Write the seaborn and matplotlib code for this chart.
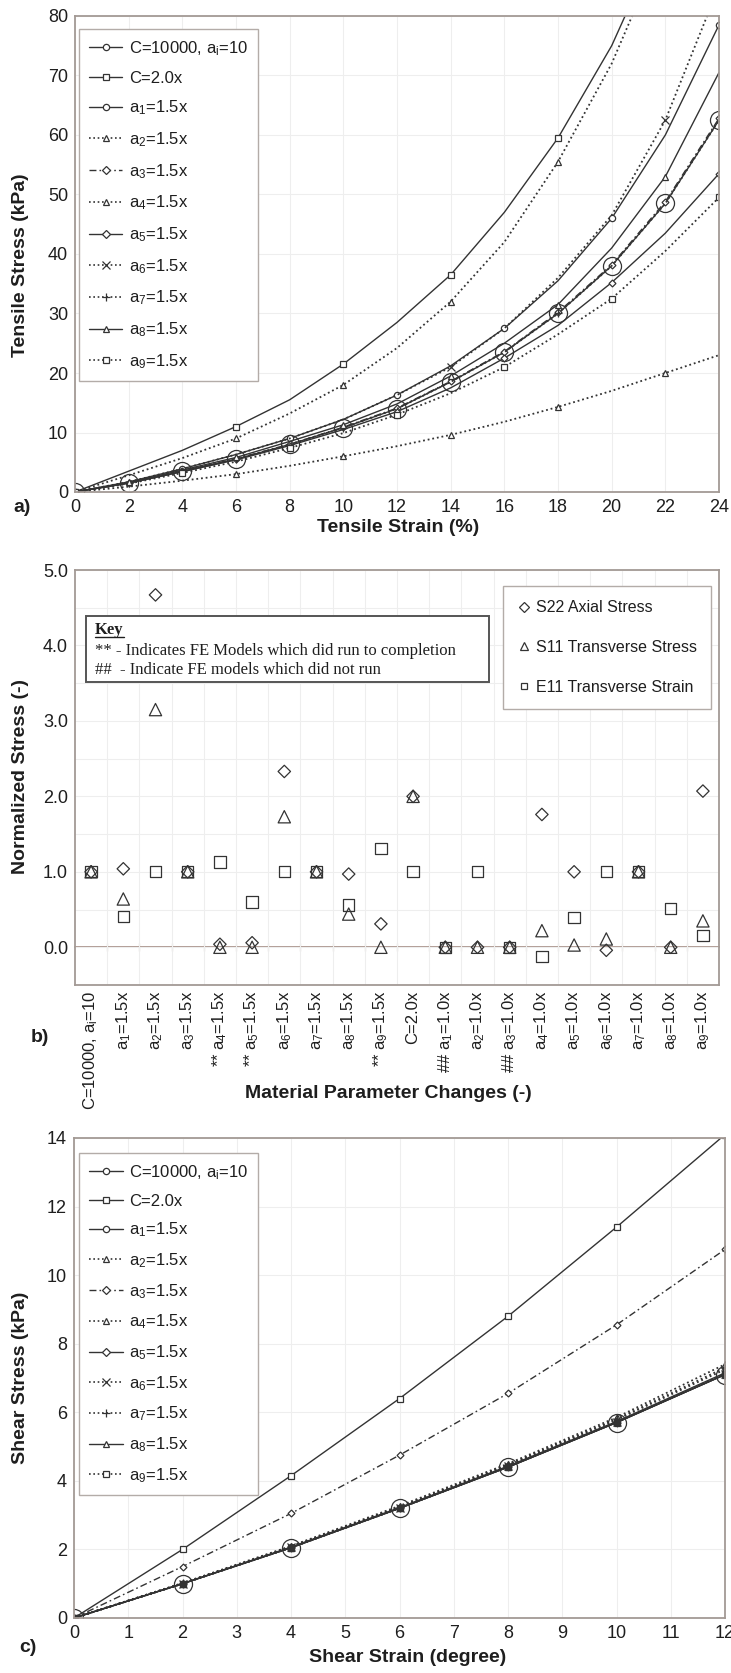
import matplotlib
matplotlib.use("Agg")
import matplotlib.pyplot as plt
import seaborn as sns
import numpy as np
import pandas as pd
from matplotlib.lines import Line2D
from matplotlib.patches import Rectangle
from matplotlib.ticker import MultipleLocator, FixedLocator, FormatStrFormatter

# ---------------- data: panel a (tensile) ----------------
tensile_strain = [0, 2, 4, 6, 8, 10, 12, 14, 16, 18, 20, 22, 24]
ta_base = [0, 1.5, 3.5, 5.5, 8, 10.8, 14, 18.5, 23.5, 30, 38, 48.5, 62.5]
ta_C2 = [0, 3.5, 7, 11, 15.5, 21.5, 28.5, 36.5, 47, 59.5, 75, 95]
ta_a1 = [0, 1.7, 3.9, 6.3, 9, 12.2, 16.3, 21.2, 27.5, 35.5, 46, 60, 78.5]
ta_a2 = [0, 2.8, 5.7, 9, 13.2, 18, 24.2, 32, 42, 55.5, 72, 93]
ta_a3 = [0, 1.5, 3.5, 5.6, 8, 10.9, 14.1, 18.6, 23.6, 30.2, 38.2, 48.8, 62.8]
ta_a4 = [0, 0.9, 1.9, 3, 4.4, 6, 7.7, 9.6, 11.8, 14.3, 17, 20, 23]
ta_a5 = [0, 1.5, 3.4, 5.4, 7.8, 10.5, 13.5, 17.5, 22.5, 28, 35.2, 43.5, 53.5]
ta_a6 = [0, 1.7, 3.9, 6.3, 9, 12.2, 16.3, 21, 27.5, 36, 46.5, 62.5, 85]
ta_a7 = [0, 1.5, 3.5, 5.5, 8, 10.8, 14, 18.5, 23.5, 30, 38, 48.5, 62.5]
ta_a8 = [0, 1.6, 3.7, 5.8, 8.5, 11.3, 14.8, 19.5, 25, 31.5, 41, 53, 70.5]
ta_a9 = [0, 1.4, 3.2, 5.1, 7.4, 9.9, 13, 16.6, 21, 26.5, 32.5, 40.5, 49.5]

# ---------------- data: panel c (shear) ----------------
shear_strain = [0, 2, 4, 6, 8, 10, 12]
sc_base = [0, 1.0, 2.05, 3.2, 4.4, 5.7, 7.1]
sc_C2 = [0, 2.0, 4.15, 6.4, 8.8, 11.4, 14.1]
sc_a1 = [0, 1.0, 2.07, 3.22, 4.43, 5.73, 7.15]
sc_a2 = [0, 1.02, 2.1, 3.27, 4.5, 5.85, 7.4]
sc_a3 = [0, 1.5, 3.05, 4.75, 6.55, 8.55, 10.75]
sc_a4 = [0, 1.01, 2.08, 3.24, 4.46, 5.78, 7.25]
sc_a5 = [0, 1.0, 2.05, 3.2, 4.4, 5.7, 7.1]
sc_a6 = [0, 1.0, 2.06, 3.21, 4.42, 5.72, 7.12]
sc_a7 = [0, 1.01, 2.08, 3.24, 4.47, 5.8, 7.3]
sc_a8 = [0, 1.0, 2.05, 3.2, 4.4, 5.7, 7.1]
sc_a9 = [0, 1.0, 2.05, 3.2, 4.41, 5.71, 7.12]

series_labels = ["C=10000, a$_i$=10", "C=2.0x", "a$_1$=1.5x", "a$_2$=1.5x", "a$_3$=1.5x",
                 "a$_4$=1.5x", "a$_5$=1.5x", "a$_6$=1.5x", "a$_7$=1.5x", "a$_8$=1.5x", "a$_9$=1.5x"]

# ---------------- data: panel b (normalized) ----------------
param_changes = ["C=10000, a$_i$=10", "a$_1$=1.5x", "a$_2$=1.5x", "a$_3$=1.5x", "** a$_4$=1.5x",
                 "** a$_5$=1.5x", "a$_6$=1.5x", "a$_7$=1.5x", "a$_8$=1.5x", "** a$_9$=1.5x",
                 "C=2.0x", "## a$_1$=1.0x", "a$_2$=1.0x", "## a$_3$=1.0x", "a$_4$=1.0x",
                 "a$_5$=1.0x", "a$_6$=1.0x", "a$_7$=1.0x", "a$_8$=1.0x", "a$_9$=1.0x"]
s22_axial = [1.0, 1.04, 4.67, 1.0, 0.04, 0.06, 2.33, 1.0, 0.97, 0.31,
             2.0, 0.0, 0.0, 0.0, 1.76, 1.0, -0.04, 1.0, 0.0, 2.07]
s11_transverse = [1.0, 0.64, 3.15, 1.0, 0.0, 0.0, 1.73, 1.0, 0.44, 0.0,
                  2.0, 0.0, 0.0, 0.0, 0.22, 0.03, 0.11, 1.0, 0.0, 0.35]
e11_transverse = [1.0, 0.41, 1.0, 1.0, 1.13, 0.6, 1.0, 1.0, 0.56, 1.31,
                  1.0, 0.0, 1.0, 0.0, -0.12, 0.39, 1.0, 1.0, 0.51, 0.16]
measure_names = ["S22 Axial Stress", "S11 Transverse Stress", "E11 Transverse Strain"]

# ---------------- styling ----------------
sns.set_style("white")
plt.rcParams["font.family"] = ["Liberation Sans", "DejaVu Sans"]
plt.rcParams["mathtext.default"] = "regular"

INK = "#333333"
TXT = "#1e1e1e"
SPINE = "#a39a95"
GRID = "#eeeeee"
DOT = (0, (1, 1.6))
DASHDOT = (0, (5, 2.2, 1.2, 2.2))

W, H = 731, 1673
fig = plt.figure(figsize=(W / 100, H / 100), dpi=100)
fig.patch.set_facecolor("white")


def px_axes(left, top, right, bottom):
    return fig.add_axes([left / W, 1 - bottom / H, (right - left) / W, (bottom - top) / H])


def ftext(x, y, s, **kw):
    fig.text(x / W, 1 - y / H, s, ha="center", va="center", color=TXT, **kw)


def style_axes(ax):
    for sp in ax.spines.values():
        sp.set_color(SPINE)
        sp.set_linewidth(1.3)
    ax.tick_params(length=0, labelsize=13, labelcolor=TXT, pad=5)
    ax.set_xlabel("")
    ax.set_ylabel("")


# style spec per series (legend order)
a_styles = [
    dict(ls="-", marker="o", ms=13, every=None, big=True),
    dict(ls="-", marker="s", ms=4.5, every=[0, 3, 5, 7, 9]),
    dict(ls="-", marker="o", ms=4.5, every=[0, 2, 4, 6, 8, 10, 12]),
    dict(ls=DOT, marker="^", ms=5, every=[3, 5, 7, 9]),
    dict(ls=DASHDOT, marker="D", ms=3.5, every=None),
    dict(ls=DOT, marker="^", ms=5, every=[3, 5, 7, 9, 11]),
    dict(ls="-", marker="D", ms=3.5, every=[0, 2, 4, 6, 8, 10, 12]),
    dict(ls=DOT, marker="x", ms=6, every=[7, 11]),
    dict(ls=DOT, marker="+", ms=6, every=[1, 3, 5, 9]),
    dict(ls="-", marker="^", ms=5, every=[1, 3, 5, 7, 9, 11]),
    dict(ls=DOT, marker="s", ms=4.5, every=[0, 2, 4, 6, 8, 10, 12]),
]
c_styles = [
    dict(ls="-", marker="o", ms=13, every=None, big=True),
    dict(ls="-", marker="s", ms=4.5, every=None),
    dict(ls="-", marker="o", ms=4.5, every=None),
    dict(ls=DOT, marker="^", ms=5, every=None),
    dict(ls=DASHDOT, marker="D", ms=3.5, every=None),
    dict(ls=DOT, marker="^", ms=5, every=None),
    dict(ls="-", marker="D", ms=3.5, every=None),
    dict(ls=DOT, marker="x", ms=6, every=None),
    dict(ls=DOT, marker="+", ms=6, every=None),
    dict(ls="-", marker="^", ms=5, every=None),
    dict(ls=DOT, marker="s", ms=4.5, every=None, fill=INK),
]


def draw_series(ax, x, y, st):
    n = len(y)
    lw = 1.3 if st["ls"] == DOT else 1.0
    face = st.get("fill", "none" if st.get("big") else "white")
    sns.lineplot(x=x[:n], y=y, ax=ax, color=INK, linestyle=st["ls"], lw=lw,
                 marker=st["marker"], ms=st["ms"], mfc=face, mec=INK, mew=0.9,
                 markevery=st["every"], legend=False, estimator=None)


def legend_handles(styles):
    hs = []
    for st in styles:
        hs.append(Line2D([], [], color=INK, lw=1.2 if st["ls"] == DOT else 1.0,
                         linestyle=st["ls"], marker=st["marker"],
                         ms=4.5 if st["marker"] not in ("x", "+") else 6,
                         mfc="white", mec=INK, mew=0.9))
    return hs


# ================= panel a =================
axa = px_axes(75, 16, 719, 492)
a_data = [ta_base, ta_C2, ta_a1, ta_a2, ta_a3, ta_a4, ta_a5, ta_a6, ta_a7, ta_a8, ta_a9]
for y, st in zip(a_data, a_styles):
    draw_series(axa, tensile_strain, y, st)
axa.set_xlim(0, 24)
axa.set_ylim(0, 80)
axa.xaxis.set_major_locator(MultipleLocator(2))
axa.yaxis.set_major_locator(MultipleLocator(10))
axa.grid(True, color=GRID, lw=0.8)
style_axes(axa)
leg = axa.legend(legend_handles(a_styles), series_labels, loc="upper left",
                 bbox_to_anchor=(0.006, 0.973), borderaxespad=0, fancybox=False,
                 edgecolor="#b3aca8", framealpha=1, fontsize=12, handlelength=2.0,
                 handletextpad=0.4, labelspacing=0.78, borderpad=0.6)
leg.get_frame().set_linewidth(1.0)
for t in leg.get_texts():
    t.set_color(TXT)
ftext(21, 265, "Tensile Stress (kPa)", rotation=90, fontsize=14, fontweight="bold")
ftext(398, 528, "Tensile Strain (%)", fontsize=14, fontweight="bold")
ftext(22, 508, "a)", fontsize=14, fontweight="bold")

# ================= panel b =================
axb = px_axes(75, 570, 719, 985)
pos = np.arange(len(param_changes))
b_df = pd.DataFrame({
    "pos": np.concatenate([pos, pos, pos]),
    "value": s22_axial + s11_transverse + e11_transverse,
    "measure": np.repeat(measure_names, len(pos)),
})
b_markers = {"S22 Axial Stress": ("D", 40), "S11 Transverse Stress": ("^", 78),
             "E11 Transverse Strain": ("s", 66)}
b_handles = []
for name in measure_names:
    mk, sz = b_markers[name]
    sub = b_df[b_df["measure"] == name]
    sns.scatterplot(data=sub, x="pos", y="value", ax=axb, marker=mk, s=sz, color=INK,
                    legend=False, zorder=3)
    coll = axb.collections[-1]
    coll.set_facecolor("none")
    coll.set_edgecolor(INK)
    coll.set_linewidth(0.9)
    b_handles.append(Line2D([], [], ls="none", marker=mk, ms=5 if mk != "^" else 6,
                            mfc="white", mec=INK, mew=0.9))
axb.set_xlim(-0.5, len(param_changes) - 0.5)
axb.set_ylim(-0.5, 5.0)
axb.yaxis.set_major_locator(MultipleLocator(1.0))
axb.yaxis.set_minor_locator(MultipleLocator(0.5))
axb.yaxis.set_major_formatter(FormatStrFormatter("%.1f"))
axb.set_xticks(pos)
axb.set_xticklabels(param_changes, rotation=90)
axb.xaxis.set_minor_locator(FixedLocator(pos[:-1] + 0.5))
axb.grid(True, which="both", color=GRID, lw=0.8)
axb.grid(False, which="major", axis="x")
style_axes(axb)
axb.tick_params(axis="x", labelsize=12, pad=4)
zero_axis = axb.secondary_xaxis(0.5 / 5.5)
zero_axis.set_xticks(pos[:-1] + 0.5)
zero_axis.tick_params(direction="inout", length=6, width=0.8, color="#9a8076",
                      labelbottom=False)
zero_axis.spines["bottom"].set_color("#9a8076")
zero_axis.spines["bottom"].set_linewidth(1.1)
legb = axb.legend(b_handles, measure_names, loc="upper right", bbox_to_anchor=(0.988, 0.962),
                  borderaxespad=0, fancybox=False, edgecolor="#b3aca8", framealpha=1,
                  fontsize=11.5, handlelength=0.8, handletextpad=0.35, labelspacing=1.55,
                  borderpad=0.9)
legb.get_frame().set_linewidth(1.0)
for t in legb.get_texts():
    t.set_color(TXT)

# key box
x0b, x1b = (86 - 75) / 644, (489 - 75) / 644
y0b, y1b = 1 - (682 - 570) / 415, 1 - (616 - 570) / 415
axb.add_patch(Rectangle((x0b, y0b), x1b - x0b, y1b - y0b, transform=axb.transAxes,
                        fill=True, facecolor="white", edgecolor="#555555", lw=1.4, zorder=4))
serif = ["Liberation Serif", "DejaVu Serif"]
key_t = axb.text((95 - 75) / 644, 1 - (630 - 570) / 415, "Key", transform=axb.transAxes,
                 family=serif, fontsize=12, fontweight="bold", va="center", ha="left",
                 color=TXT, zorder=5)
axb.text((95 - 75) / 644, 1 - (651 - 570) / 415,
         "** - Indicates FE Models which did run to completion", transform=axb.transAxes,
         family=serif, fontsize=12, va="center", ha="left", color=TXT, zorder=5)
axb.text((95 - 75) / 644, 1 - (670 - 570) / 415,
         "##  - Indicate FE models which did not run", transform=axb.transAxes,
         family=serif, fontsize=12, va="center", ha="left", color=TXT, zorder=5)

ftext(21, 777, "Normalized Stress (-)", rotation=90, fontsize=14, fontweight="bold")
ftext(388, 1093, "Material Parameter Changes (-)", fontsize=14, fontweight="bold")
ftext(40, 1038, "b)", fontsize=14, fontweight="bold")

# ================= panel c =================
axc = px_axes(74, 1138, 725, 1618)
c_data = [sc_base, sc_C2, sc_a1, sc_a2, sc_a3, sc_a4, sc_a5, sc_a6, sc_a7, sc_a8, sc_a9]
for y, st in zip(c_data, c_styles):
    draw_series(axc, shear_strain, y, st)
axc.set_xlim(0, 12)
axc.set_ylim(0, 14)
axc.xaxis.set_major_locator(MultipleLocator(1))
axc.yaxis.set_major_locator(MultipleLocator(2))
axc.grid(True, color=GRID, lw=0.8)
style_axes(axc)
legc = axc.legend(legend_handles(c_styles), series_labels, loc="upper left",
                  bbox_to_anchor=(0.008, 0.969), borderaxespad=0, fancybox=False,
                  edgecolor="#b3aca8", framealpha=1, fontsize=12, handlelength=2.0,
                  handletextpad=0.4, labelspacing=0.72, borderpad=0.6)
legc.get_frame().set_linewidth(1.0)
for t in legc.get_texts():
    t.set_color(TXT)
ftext(21, 1378, "Shear Stress (kPa)", rotation=90, fontsize=14, fontweight="bold")
ftext(408, 1658, "Shear Strain (degree)", fontsize=14, fontweight="bold")
ftext(28, 1648, "c)", fontsize=14, fontweight="bold")

# underline for "Key"
fig.canvas.draw()
bb = key_t.get_window_extent()
fig.add_artist(Line2D([bb.x0, bb.x1], [bb.y0 + 1, bb.y0 + 1], transform=None,
                      color=TXT, lw=1.0, zorder=6))

fig.savefig("out.png", dpi=100)
